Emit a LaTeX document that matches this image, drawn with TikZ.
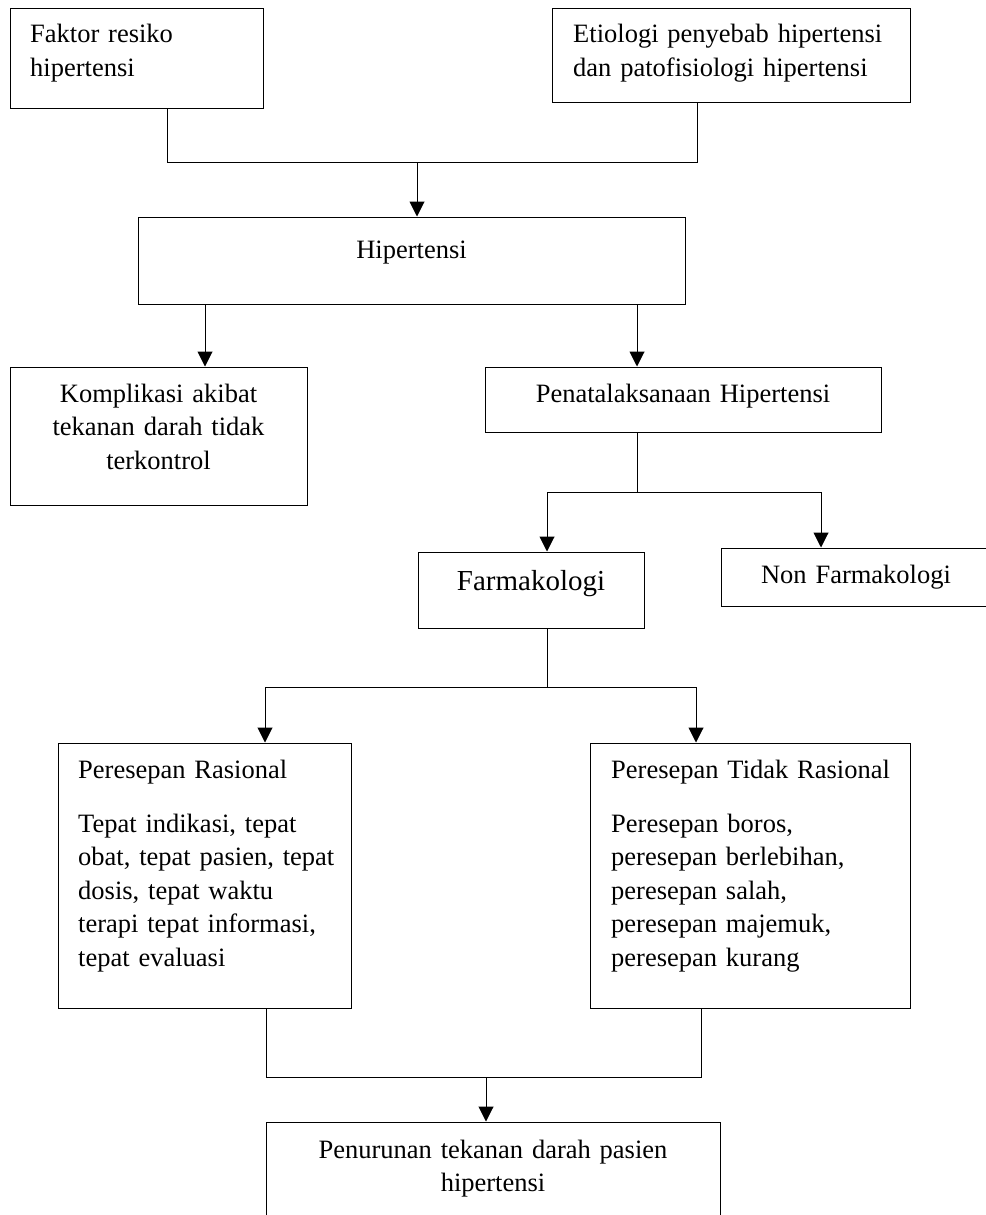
\documentclass[tikz,border=0pt]{standalone}
\usepackage{fontspec}
\setmainfont{Liberation Serif}
\usetikzlibrary{arrows.meta}
\begin{document}
\begin{tikzpicture}[x=1pt,y=-1pt,
  box/.style={draw=black,line width=1pt,rectangle,inner sep=0pt},
  txt/.style={inner sep=0pt,font=\fontsize{26.5}{33.5}\selectfont},
  ltxt/.style={txt,text width=#1,align=left,anchor=base west},
  ctxt/.style={txt,text width=#1,align=center,anchor=base},
  conn/.style={line width=1pt,black},
  arr/.style={conn,-{Triangle[length=15pt,width=15pt]}}]
\fill[white] (0,0) rectangle (985,1215);
\useasboundingbox (0,0) rectangle (985,1215);

% boxes
\node[box,minimum width=253pt,minimum height=99pt] (faktor) at (136.5,58.5) {};
\node[box,minimum width=358pt,minimum height=93pt] (etiologi) at (731,55.5) {};
\node[box,minimum width=547pt,minimum height=87pt] (hiper) at (411.5,260.5) {};
\node[box,minimum width=297pt,minimum height=138pt] (kompl) at (158.5,436) {};
\node[box,minimum width=396pt,minimum height=65pt] (penata) at (683,399.5) {};
\node[box,minimum width=226pt,minimum height=76pt] (farma) at (531,590) {};
\node[box,minimum width=270pt,minimum height=58pt] (nonfarma) at (856,577) {};
\node[box,minimum width=293pt,minimum height=265pt] (rasional) at (204.5,875.5) {};
\node[box,minimum width=320pt,minimum height=265pt] (tidak) at (750,875.5) {};
\node[box,minimum width=454pt,minimum height=118pt] (penurunan) at (493,1181) {};

% texts
\node[ltxt=220pt] (tfaktor) at (30,43) {Faktor resiko\\hipertensi};
\node[ltxt=330pt] (tetiologi) at (573,43) {Etiologi penyebab hipertensi\\dan patofisiologi hipertensi};
\node[ctxt=300pt] (thiper) at (411.5,258) {Hipertensi};
\node[ctxt=290pt] (tkompl) at (158.5,402) {Komplikasi akibat\\tekanan darah tidak\\terkontrol};
\node[ctxt=390pt] (tpenata) at (683,402) {Penatalaksanaan Hipertensi};
\node[ctxt=220pt,font=\fontsize{29}{34}\selectfont] (tfarma) at (531,590) {Farmakologi};
\node[ctxt=260pt] (tnonfarma) at (856,583) {Non Farmakologi};
\node[ltxt=270pt] (trasional) at (78,778) {Peresepan Rasional\\[20.5pt]Tepat indikasi, tepat\\obat, tepat pasien, tepat\\dosis, tepat waktu\\terapi tepat informasi,\\tepat evaluasi};
\node[ltxt=295pt] (ttidak) at (611,778) {Peresepan Tidak Rasional\\[20.5pt]Peresepan boros,\\peresepan berlebihan,\\peresepan salah,\\peresepan majemuk,\\peresepan kurang};
\node[ctxt=440pt] (tpenurunan) at (493,1158) {Penurunan tekanan darah pasien\\hipertensi};

% junction coordinates
\coordinate (b1l) at (167,162);
\coordinate (b1m) at (417,162);
\coordinate (b1r) at (697,162);
\coordinate (a2) at (205,0);
\coordinate (a3) at (637,0);
\coordinate (b2l) at (547,492);
\coordinate (b2m) at (637,492);
\coordinate (b2r) at (821,492);
\coordinate (b3l) at (265,687);
\coordinate (b3m) at (547,687);
\coordinate (b3r) at (696,687);
\coordinate (b4l) at (266,1077);
\coordinate (b4m) at (486,1077);
\coordinate (b4r) at (701,1077);

% connectors
\draw[conn] (faktor.south -| b1l) -- (b1l) -- (b1r) -- (etiologi.south -| b1r);
\draw[arr] (b1m) -- (hiper.north -| b1m);
\draw[arr] (hiper.south -| a2) -- (kompl.north -| a2);
\draw[arr] (hiper.south -| a3) -- (penata.north -| a3);
\draw[conn] (penata.south -| b2m) -- (b2m);
\draw[arr] (b2m) -| (farma.north -| b2l);
\draw[arr] (b2m) -| (nonfarma.north -| b2r);
\draw[conn] (farma.south -| b3m) -- (b3m);
\draw[arr] (b3m) -| (rasional.north -| b3l);
\draw[arr] (b3m) -| (tidak.north -| b3r);
\draw[conn] (rasional.south -| b4l) -- (b4l) -- (b4r) -- (tidak.south -| b4r);
\draw[arr] (b4m) -- (penurunan.north -| b4m);
\end{tikzpicture}
\end{document}
